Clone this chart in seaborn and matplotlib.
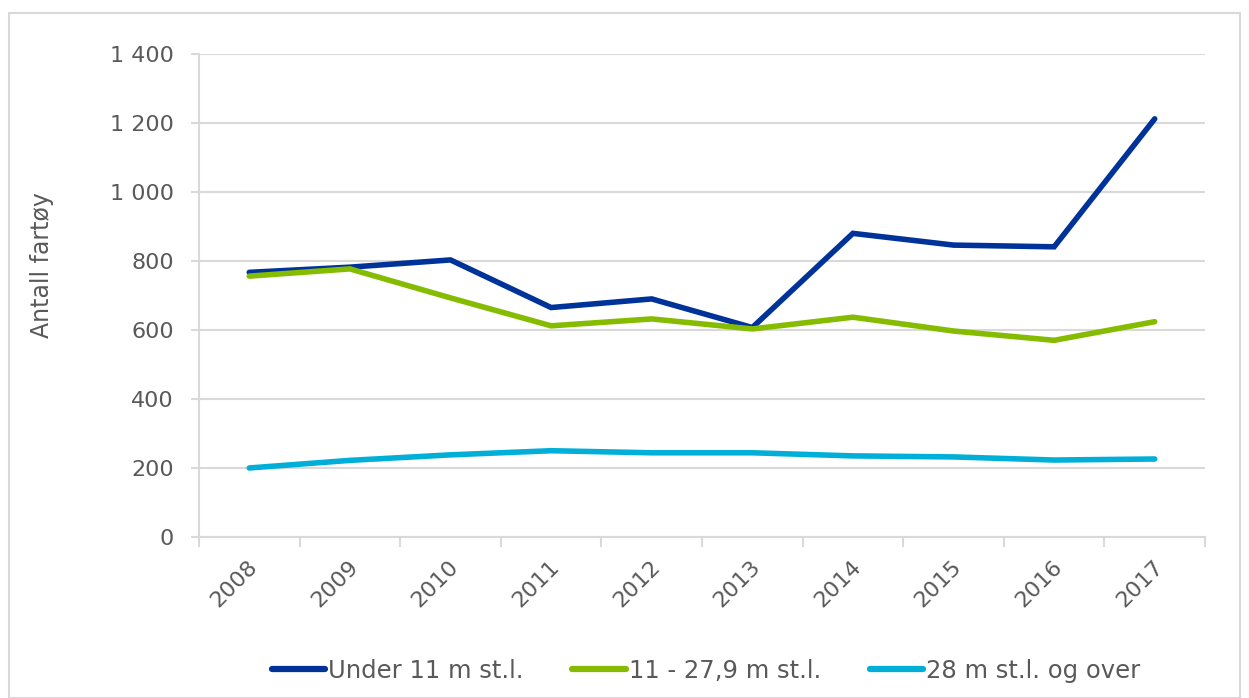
import pandas as pd
import numpy as np
import matplotlib
matplotlib.use("Agg")
import matplotlib.pyplot as plt
import seaborn as sns
from matplotlib.patches import Rectangle
from matplotlib.ticker import FuncFormatter
from matplotlib.font_manager import FontProperties
import matplotlib.transforms as mtransforms

years = ["2008", "2009", "2010", "2011", "2012", "2013", "2014", "2015", "2016", "2017"]
series_names = ["Under 11 m st.l.", "11 - 27,9 m st.l.", "28 m st.l. og over"]
under_11 = [767, 782, 803, 665, 690, 607, 880, 846, 841, 1212]
mid_11_28 = [756, 777, 693, 612, 632, 603, 637, 597, 570, 624]
over_28 = [200, 222, 238, 250, 244, 244, 235, 232, 223, 226]
colors = ["#003399", "#86bc00", "#00afd7"]

rows = []
for name, vals in zip(series_names, [under_11, mid_11_28, over_28]):
	for i, v in enumerate(vals):
		rows.append({"pos": i, "year": years[i], "serie": name, "antall": v})
df = pd.DataFrame(rows)

sns.set_style("white")
plt.rcParams.update({
	"font.family": ["DejaVu Sans"],
})
txt_color = "#595959"
grid_color = "#d9d9d9"

fig = plt.figure(figsize=(12.49, 6.98), dpi=100)
ax: plt.Axes = fig.add_axes([0.1593, 0.2307, 0.8055, 0.6920])

sns.lineplot(data=df, x="pos", y="antall", hue="serie", hue_order=series_names,
	palette=colors, linewidth=4, ax=ax, legend=True)
for ln in ax.lines:
	ln.set_solid_capstyle("round")
	ln.set_solid_joinstyle("miter")

# y
ax.set_ylim(0, 1400)
ax.set_yticks(range(0, 1401, 200))
ax.yaxis.set_major_formatter(FuncFormatter(lambda v, p: f"{int(v):,}".replace(",", " ")))
ax.set_ylabel("Antall fartøy", fontsize=17, color=txt_color)
ax.yaxis.set_label_coords(-(199 - 54) / 1006, (537 - 265) / 483)
ax.yaxis.grid(True, color=grid_color, linewidth=1.5)
ax.tick_params(axis="y", which="major", length=6, width=1.5, color=grid_color,
	labelsize=16, labelcolor=txt_color, pad=12, left=True)

# x
ax.set_xlim(-0.5, len(years) - 0.5)
ax.set_xticks(range(len(years)))
ax.set_xticklabels(years, rotation=45, ha="right", rotation_mode="anchor")
ax.set_xticks(np.arange(-0.5, len(years), 1.0), minor=True)
ax.tick_params(axis="x", which="major", length=0, labelsize=16, labelcolor=txt_color, pad=14)
ax.tick_params(axis="x", which="minor", length=7, width=1.5, color=grid_color, bottom=True)
shift = mtransforms.ScaledTranslation(-2 / 100, 0, fig.dpi_scale_trans)
for lab in ax.get_xticklabels():
	lab.set_transform(lab.get_transform() + shift)
ax.set_xlabel("")

# border
for s in ["top", "right"]:
	ax.spines[s].set_visible(False)
for s in ["left", "bottom"]:
	ax.spines[s].set_color(grid_color)
	ax.spines[s].set_linewidth(1.5)

handles, labels = ax.get_legend_handles_labels()
for h in handles:
	h.set_linewidth(4.5)
	h.set_solid_capstyle("round")
leg_font = FontProperties(family="DejaVu Sans", size=17.5)
ax.legend(handles, labels, loc="center", bbox_to_anchor=(706 / 1249, 1 - 671 / 698),
	bbox_transform=fig.transFigure, ncol=3, frameon=False, prop=leg_font,
	handlelength=2.2, handletextpad=0.12, columnspacing=2.0, labelcolor=txt_color)

fig.patches.append(Rectangle((9 / 1249, 0), (1240 - 9) / 1249, 1 - 13 / 698,
	transform=fig.transFigure, fill=False, edgecolor=grid_color, linewidth=1.5))

plt.savefig("out.png", dpi=100)
